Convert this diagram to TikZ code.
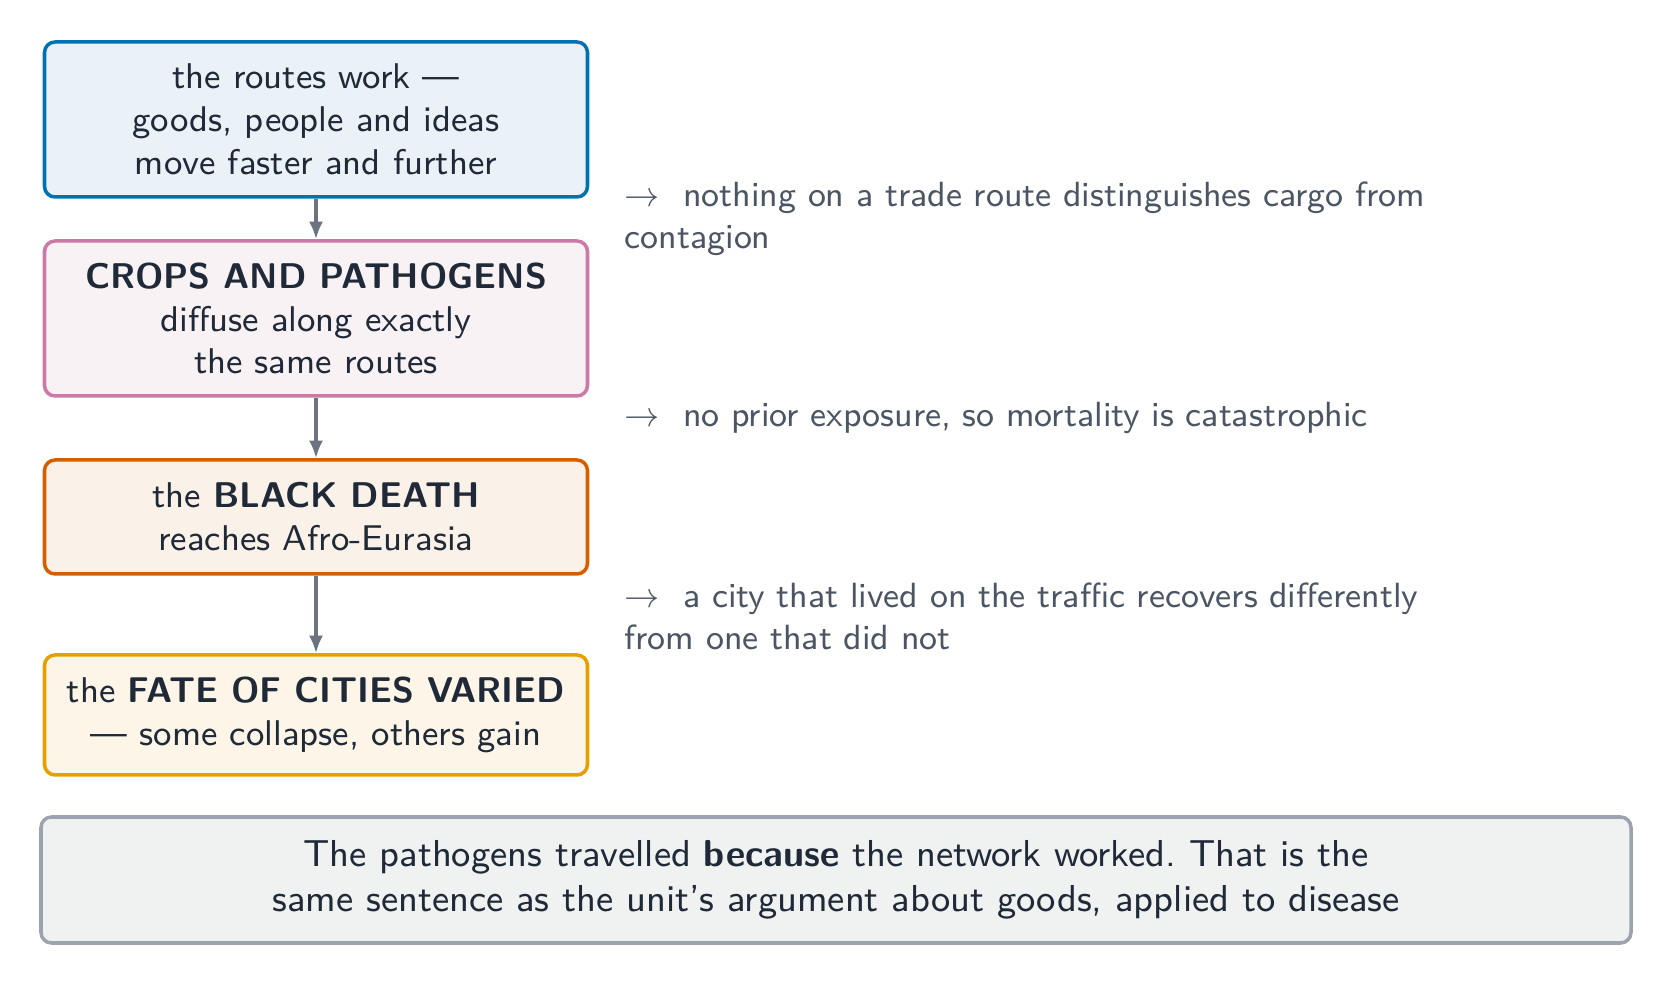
\documentclass[tikz,border=0pt]{standalone}
\usepackage{xcolor}
\usepackage{fontspec}
\setsansfont{lmsans9-regular.otf}[BoldFont=lmsans10-bold.otf]
\usetikzlibrary{arrows.meta}
\frenchspacing

\definecolor{inkdark}{HTML}{1F2937}
\definecolor{inknote}{HTML}{4B5563}
\definecolor{linkgray}{HTML}{6B7280}
\definecolor{routeblue}{HTML}{0072B2}
\definecolor{routefill}{HTML}{EAF2F8}
\definecolor{cropspink}{HTML}{CC79A7}
\definecolor{cropsfill}{HTML}{F8F2F5}
\definecolor{deathred}{HTML}{D55E00}
\definecolor{deathfill}{HTML}{FAF1E8}
\definecolor{fateorange}{HTML}{E69F00}
\definecolor{fatefill}{HTML}{FDF6E8}
\definecolor{sumgray}{HTML}{9CA3AF}
\definecolor{sumfill}{HTML}{F0F2F2}

\tikzset{
  stage/.style={draw, line width=1pt, rounded corners=3pt, align=center,
    minimum width=5.43cm, text=inkdark,
    font=\sffamily\fontsize{10.17}{12.2}\selectfont},
  note/.style={anchor=west, align=left, text width=8.3cm, inner sep=0pt,
    text=inknote, font=\sffamily\fontsize{9.95}{11.9}\selectfont},
  link/.style={draw=linkgray, line width=0.9pt, -{Latex[length=5pt,width=4pt]}}
}

\begin{document}
\begin{tikzpicture}
  \useasboundingbox (0,0) rectangle (16.73,-9.85);

  % the four stages down the left side
  \node[stage, draw=routeblue, fill=routefill, minimum height=1.55cm] (routes) at (3.16,-1.195)
    {the routes work ---\\goods, people and ideas\\move faster and further};
  \node[stage, draw=cropspink, fill=cropsfill, minimum height=1.55cm] (crops) at (3.16,-3.185)
    {\textbf{CROPS AND PATHOGENS}\\diffuse along exactly\\the same routes};
  \node[stage, draw=deathred, fill=deathfill, minimum height=1.14cm] (death) at (3.16,-5.17)
    {the \textbf{BLACK DEATH}\\reaches Afro-Eurasia};
  \node[stage, draw=fateorange, fill=fatefill, minimum height=1.2cm] (fate) at (3.16,-7.15)
    {the \textbf{FATE OF CITIES VARIED}\\--- some collapse, others gain};

  \draw[link] (routes) -- (crops);
  \draw[link] (crops) -- (death);
  \draw[link] (death) -- (fate);

  % notes beside the gaps
  \node[note] (note1) at (6.24,-2.19)
    {$\rightarrow$~~nothing on a trade route distinguishes cargo from contagion};
  \node[note] (note2) at (6.24,-4.18)
    {$\rightarrow$~~no prior exposure, so mortality is catastrophic};
  \node[note] (note3) at (6.24,-6.16)
    {$\rightarrow$~~a city that lived on the traffic recovers differently from one that did not};

  % summary along the bottom
  \node[draw=sumgray, fill=sumfill, line width=1pt, rounded corners=3pt,
    minimum width=15.9cm, minimum height=1.26cm, align=center,
    text=inkdark, font=\sffamily\fontsize{10.67}{12.8}\selectfont] (summary) at (8.36,-8.80)
    {The pathogens travelled \textbf{because} the network worked. That is the\\
     same sentence as the unit’s argument about goods, applied to disease};
\end{tikzpicture}
\end{document}
